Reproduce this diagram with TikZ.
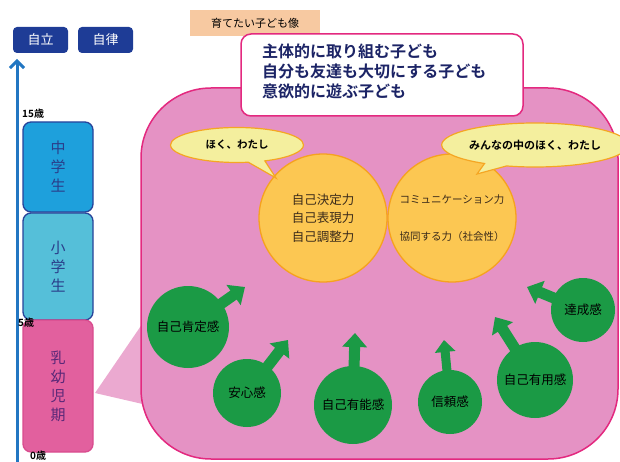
\documentclass[tikz,border=0pt]{standalone}
\usepackage{fontspec}
\setmainfont{Noto Sans CJK JP}[BoldFont={Noto Sans CJK JP Bold}]
\usetikzlibrary{arrows.meta,shapes.callouts}
\definecolor{navybox}{HTML}{1E3C96}
\definecolor{axisblue}{HTML}{2276C2}
\definecolor{jhs}{HTML}{1EA0DC}
\definecolor{els}{HTML}{55BFD9}
\definecolor{boxborder}{HTML}{27439A}
\definecolor{infant}{HTML}{E2609E}
\definecolor{infantborder}{HTML}{D94C8E}
\definecolor{regionfill}{HTML}{E592C4}
\definecolor{regionedge}{HTML}{E3297F}
\definecolor{wedgecol}{HTML}{EBA9D0}
\definecolor{peach}{HTML}{F7C9A1}
\definecolor{bubblefill}{HTML}{F4EF9E}
\definecolor{bubbleedge}{HTML}{F5A623}
\definecolor{yellowfill}{HTML}{FCC752}
\definecolor{yellowedge}{HTML}{F6A21E}
\definecolor{greenc}{HTML}{1B9A45}
\definecolor{navytext}{HTML}{1C2466}
\definecolor{bluetext}{HTML}{2A3E8A}
\definecolor{purpletext}{HTML}{5A2878}
\definecolor{darktext}{HTML}{3A2A1A}
\pgfdeclarelayer{back}
\pgfdeclarelayer{mid}
\pgfsetlayers{back,mid,main}
\tikzset{
  topbox/.style={fill=navybox, rounded corners=4pt, minimum width=55pt, minimum height=26pt, inner sep=0pt, text=white, font=\fontsize{13}{15}\selectfont},
  stagebox/.style={draw=boxborder, line width=1.3pt, rounded corners=8pt, minimum width=70pt, inner sep=0pt, align=center, text=bluetext, font=\fontsize{15}{19}\selectfont},
  agelabel/.style={anchor=west, inner sep=0pt, font=\bfseries\fontsize{10}{12}\selectfont},
  bubble/.style={ellipse callout, draw=bubbleedge, line width=1.2pt, fill=bubblefill, inner sep=0pt, font=\bfseries\fontsize{10.5}{12}\selectfont},
  yellowc/.style={circle, draw=yellowedge, line width=1.3pt, fill=yellowfill, minimum size=128pt, inner sep=0pt, align=center, text=darktext},
  greenc/.style={circle, fill=greenc, inner sep=0pt, text=black, font=\fontsize{12.5}{14}\selectfont},
  fatarrow/.style={draw=greenc, line width=11pt, -{Triangle[width=24pt,length=14pt]}},
}
\begin{document}
\begin{tikzpicture}[x=1pt,y=-1pt]
\useasboundingbox (0,0) rectangle (620,462);

% left timeline
\coordinate (axbot) at (17,462);
\coordinate (axtop) at (17,59);
\draw[axisblue, line width=3pt, -{Straight Barb[width=14pt,length=7pt,line width=3pt]}] (axbot) -- (axtop);

\node[topbox] (jiritsu) at (40.5,40) {自立};
\node[topbox] (jiritsu2) at (105.5,40) {自律};

\node[stagebox, fill=jhs, minimum height=90pt] (jh) at (58,167) {中\\学\\生};
\node[stagebox, fill=els, minimum height=107pt] (el) at (58,266.5) {\\[-6pt]小\\学\\生};
\node[stagebox, fill=infant, draw=infantborder, text=purpletext, minimum height=132pt] (kb) at (58,386) {乳\\幼\\児\\期};

\node[agelabel] (a15) at (22,114) {15歳};
\node[agelabel] (a5) at (18,323) {5歳};
\node[agelabel] (a0) at (30,456) {0歳};

% region
\begin{pgfonlayer}{back}
\coordinate (wedgeapex) at (95,393);
\coordinate (wedgeup) at (160,298);
\coordinate (wedgelow) at (160,408);
\fill[wedgecol] (wedgeapex) -- (wedgeup) -- (wedgelow) -- cycle;
\node[draw=regionedge, fill=regionfill, line width=1.5pt, rounded corners=70pt, minimum width=477pt, minimum height=371pt, inner sep=0pt] (region) at (379.5,273.5) {};
\end{pgfonlayer}

% ideal child
\node[fill=peach, minimum width=130pt, minimum height=26pt, inner sep=0pt, font=\fontsize{11}{13}\selectfont] (label) at (255,23) {育てたい子ども像};
\node[draw=regionedge, fill=white, line width=1.5pt, rounded corners=10pt, minimum width=282pt, minimum height=82pt, inner sep=0pt] (ideal) at (382,75) {};
\node[anchor=west, align=left, inner sep=0pt, text=navytext, font=\bfseries\fontsize{16}{20}\selectfont] (idealtext) at (262,71) {主体的に取り組む子ども\\自分も友達も大切にする子ども\\意欲的に遊ぶ子ども};

% yellow circles
\node[yellowc, font=\fontsize{12.5}{18.5}\selectfont] (c1) at (323,218) {自己決定力\\自己表現力\\自己調整力};
\node[yellowc, font=\fontsize{10.5}{18.5}\selectfont] (c2) at (452,218) {コミュニケーション力\\[18.5pt]協同する力（社会性）};

% bubbles
\node[bubble, minimum width=133pt, minimum height=35pt, callout absolute pointer={(276,178)}] (b1) at (237,145) {ほく、わたし};
\node[bubble, minimum width=158pt, minimum height=44pt, font=\bfseries\fontsize{11}{13}\selectfont, callout absolute pointer={(477,174)}] (b2) at (535,145) {みんなの中のほく、わたし};

% green circles
\node[greenc, minimum size=82pt] (g1) at (188,327) {自己肯定感};
\node[greenc, minimum size=68pt] (g2) at (247,393) {安心感};
\node[greenc, minimum size=78pt] (g3) at (353,405) {自己有能感};
\node[greenc, minimum size=64pt] (g4) at (450,402) {信頼感};
\node[greenc, minimum size=76pt] (g5) at (535,380) {自己有用感};
\node[greenc, minimum size=64pt] (g6) at (583,310) {達成感};

\coordinate (t1) at (245,287);
\coordinate (t2) at (288,340);
\coordinate (t3) at (355,333);
\coordinate (t4) at (444,340);
\coordinate (t5) at (495,317);
\coordinate (t6) at (527,287);

\begin{pgfonlayer}{mid}
\draw[fatarrow] (g1.center) -- (t1);
\draw[fatarrow] (g2.center) -- (t2);
\draw[fatarrow] (g3.center) -- (t3);
\draw[fatarrow, line width=9pt, -{Triangle[width=20pt,length=12pt]}] (g4.center) -- (t4);
\draw[fatarrow] (g5.center) -- (t5);
\draw[fatarrow] (g6.center) -- (t6);
\end{pgfonlayer}
\end{tikzpicture}
\end{document}
